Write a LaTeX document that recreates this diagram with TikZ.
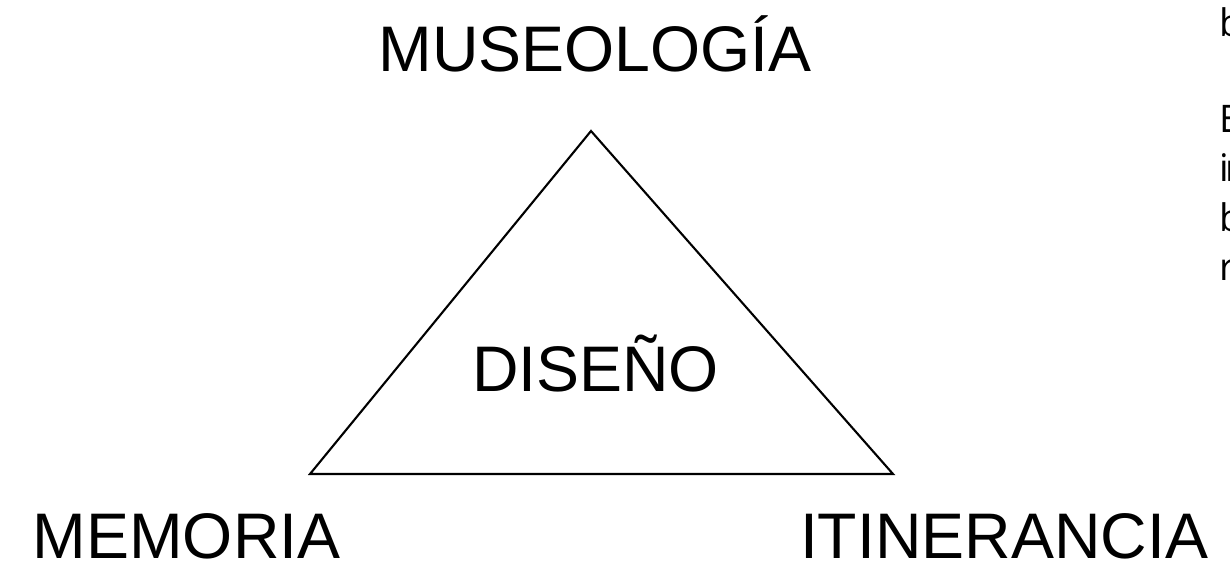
\documentclass[tikz,border=0pt]{standalone}
\usepackage{fontspec}
\setmainfont{Liberation Sans}
\newfontfamily\sidefont{Open Sans}
\begin{document}
\begin{tikzpicture}[x=1pt,y=-1pt,
  big/.style={font=\fontsize{64.4}{70}\selectfont, inner sep=0pt, anchor=base},
  side/.style={font=\sidefont\fontsize{38}{40}\selectfont, inner sep=0pt, anchor=base west}]
\useasboundingbox (0,0) rectangle (1230,564);
\coordinate (top) at (591,131);
\coordinate (bl) at (310,474);
\coordinate (br) at (893,474);
\draw[line width=2.1pt, line join=miter] (top) -- (br) -- (bl) -- cycle;
\node[big] (mus) at (595,72) {MUSEOLOG\'IA};
\node[big] (dis) at (595.5,391) {DISEÑO};
\node[big] (mem) at (186.5,558) {MEMORIA};
\node[big] (iti) at (1004,558) {ITINERANCIA};
\begin{scope}
\clip (1150,0) rectangle (1230,564);
\node[side] (s1) at (1219,37) {b};
\node[side] (s2) at (1219,133) {E};
\node[side] (s3) at (1219,182) {i\kern-3pt n};
\node[side] (s4) at (1219,231) {b};
\node[side] (s5) at (1219,280) {r};
\end{scope}
\end{tikzpicture}
\end{document}
